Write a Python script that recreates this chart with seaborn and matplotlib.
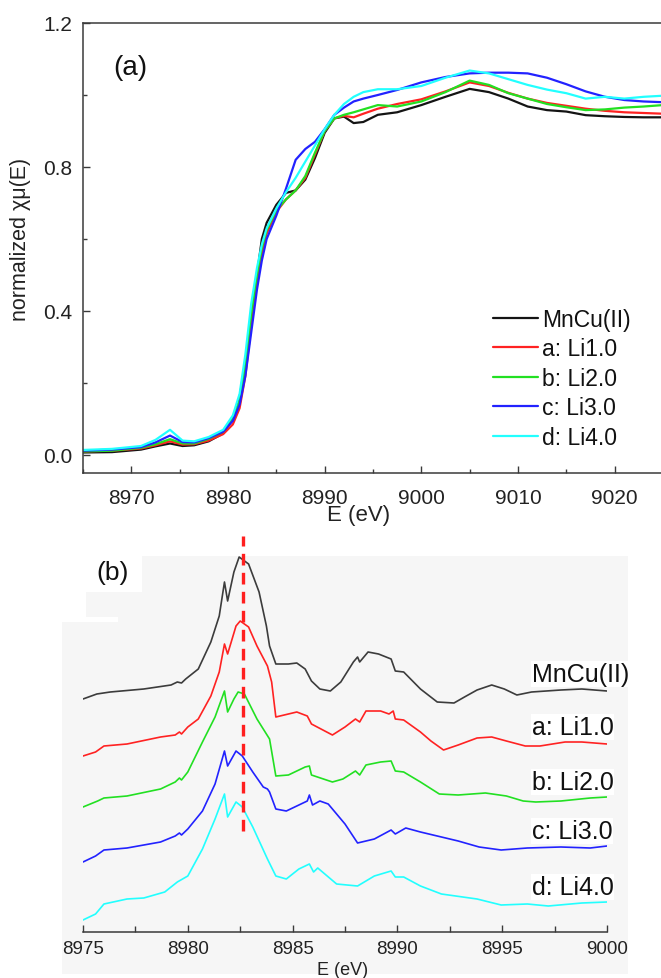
import numpy as np
import pandas as pd
import matplotlib
matplotlib.use("Agg")
import matplotlib.pyplot as plt
import seaborn as sns
from matplotlib.patches import Polygon
from matplotlib.ticker import MultipleLocator, FixedLocator

# ---------------------------------------------------------------- data
SAMPLES = ["MnCu(II)", "a: Li1.0", "b: Li2.0", "c: Li3.0", "d: Li4.0"]
COLORS = ["#141414", "#ff2222", "#22e022", "#2222ff", "#22ffff"]

# (a) normalized Cu K-edge XANES
E_A = [8965, 8968, 8971, 8972.5, 8974, 8975.3, 8976.5, 8978, 8979.5, 8980.5,
       8981.2, 8981.8, 8982.4, 8983, 8983.5, 8984, 8985, 8986, 8987, 8988,
       8989, 8990, 8991, 8992, 8993, 8994, 8995.5, 8997.5, 9000, 9002.5,
       9005, 9007, 9009, 9011, 9013, 9015, 9017, 9019, 9021, 9023, 9025]

MU_MNCU = [0.007, 0.008, 0.015, 0.024, 0.032, 0.025, 0.027, 0.038, 0.060, 0.100,
           0.160, 0.260, 0.390, 0.500, 0.600, 0.645, 0.695, 0.728, 0.735, 0.765,
           0.825, 0.895, 0.935, 0.940, 0.922, 0.925, 0.945, 0.952, 0.972, 0.995,
           1.017, 1.008, 0.990, 0.968, 0.958, 0.954, 0.944, 0.941, 0.939, 0.938, 0.938]
MU_LI1 = [0.010, 0.012, 0.018, 0.027, 0.038, 0.029, 0.030, 0.040, 0.058, 0.085,
          0.130, 0.220, 0.360, 0.480, 0.560, 0.615, 0.675, 0.710, 0.735, 0.770,
          0.835, 0.900, 0.935, 0.942, 0.938, 0.948, 0.962, 0.975, 0.988, 1.010,
          1.035, 1.025, 1.006, 0.990, 0.978, 0.970, 0.962, 0.956, 0.952, 0.950, 0.948]
MU_LI2 = [0.010, 0.012, 0.020, 0.030, 0.044, 0.032, 0.032, 0.045, 0.065, 0.100,
          0.150, 0.250, 0.390, 0.500, 0.575, 0.625, 0.680, 0.710, 0.735, 0.775,
          0.840, 0.900, 0.935, 0.945, 0.952, 0.960, 0.972, 0.968, 0.982, 1.008,
          1.040, 1.028, 1.005, 0.990, 0.975, 0.966, 0.958, 0.960, 0.965, 0.968, 0.972]
MU_LI3 = [0.012, 0.015, 0.022, 0.035, 0.054, 0.036, 0.035, 0.047, 0.065, 0.095,
          0.140, 0.220, 0.340, 0.460, 0.540, 0.600, 0.665, 0.740, 0.820, 0.850,
          0.870, 0.905, 0.945, 0.965, 0.982, 0.990, 1.000, 1.014, 1.035, 1.050,
          1.060, 1.062, 1.062, 1.060, 1.048, 1.030, 1.010, 0.995, 0.986, 0.982, 0.980]
MU_LI4 = [0.014, 0.017, 0.025, 0.042, 0.070, 0.040, 0.038, 0.050, 0.070, 0.110,
          0.170, 0.280, 0.420, 0.520, 0.585, 0.630, 0.685, 0.730, 0.770, 0.815,
          0.860, 0.905, 0.945, 0.975, 0.995, 1.008, 1.016, 1.016, 1.025, 1.048,
          1.068, 1.060, 1.044, 1.028, 1.015, 1.005, 0.990, 0.995, 0.990, 0.995, 0.998]

# (b) pre-edge / edge region, vertically stacked spectra (a.u.)
E_B_MNCU = [8975, 8975.66, 8976.3, 8977.9, 8979.2, 8979.5, 8979.7, 8979.9, 8980.5, 8981.1,
            8981.5, 8981.75, 8981.9, 8982.2, 8982.45, 8982.9, 8983.4, 8983.75, 8983.9, 8984.2,
            8984.8, 8985.2, 8985.6, 8985.9, 8986.3, 8986.8, 8987.3, 8987.9, 8988.1, 8988.2,
            8988.6, 8989.1, 8989.7, 8989.9, 8990.3, 8991.1, 8991.9, 8992.7, 8993.2, 8993.8,
            8994.5, 8995.1, 8995.7, 8996.4, 8997.8, 8998.8, 9000]
Y_B_MNCU = [2.33, 2.38, 2.40, 2.43, 2.47, 2.50, 2.49, 2.53, 2.63, 2.90,
            3.16, 3.50, 3.31, 3.60, 3.75, 3.68, 3.40, 3.06, 2.86, 2.68,
            2.68, 2.69, 2.63, 2.51, 2.43, 2.41, 2.50, 2.70, 2.75, 2.70,
            2.80, 2.78, 2.73, 2.61, 2.60, 2.43, 2.30, 2.29, 2.35, 2.42,
            2.47, 2.43, 2.37, 2.40, 2.42, 2.43, 2.41]

E_B_LI1 = [8975, 8975.6, 8976, 8977.1, 8978.7, 8979.4, 8979.6, 8979.7, 8980, 8980.5,
           8981.1, 8981.5, 8981.75, 8981.9, 8982.3, 8982.5, 8982.9, 8983.3, 8983.8, 8984,
           8984.2, 8985.2, 8985.7, 8985.9, 8986.9, 8987.5, 8988, 8988.2, 8988.5, 8989.2,
           8989.6, 8989.8, 8989.9, 8990.3, 8991.1, 8991.6, 8992.2, 8992.9, 8993.8, 8994.5,
           8995.2, 8996.1, 8996.8, 8998, 8998.8, 9000]
Y_B_LI1 = [1.76, 1.80, 1.86, 1.88, 1.95, 1.97, 2.00, 1.98, 2.05, 2.13,
           2.36, 2.60, 2.88, 2.78, 3.06, 3.11, 3.05, 2.86, 2.66, 2.50,
           2.15, 2.20, 2.16, 2.08, 1.97, 2.05, 2.13, 2.10, 2.21, 2.21,
           2.18, 2.21, 2.13, 2.12, 2.00, 1.91, 1.82, 1.87, 1.94, 1.95,
           1.91, 1.86, 1.86, 1.90, 1.90, 1.88]

E_B_LI2 = [8975, 8975.7, 8976, 8977.1, 8978.7, 8979.4, 8979.6, 8979.7, 8980, 8980.7,
           8981.3, 8981.75, 8981.9, 8982.2, 8982.4, 8982.7, 8983.3, 8983.9, 8984.2, 8984.8,
           8985.6, 8985.8, 8985.9, 8986.9, 8987.4, 8988, 8988.2, 8988.5, 8989.2, 8989.7,
           8989.9, 8990.3, 8991.1, 8992, 8992.9, 8994.2, 8995.2, 8996, 8996.6, 8997.8,
           8999.2, 9000]
Y_B_LI2 = [1.25, 1.31, 1.34, 1.36, 1.43, 1.50, 1.54, 1.52, 1.60, 1.90,
           2.15, 2.41, 2.20, 2.33, 2.40, 2.38, 2.13, 1.93, 1.56, 1.57,
           1.65, 1.66, 1.57, 1.50, 1.53, 1.61, 1.57, 1.67, 1.70, 1.71,
           1.61, 1.60, 1.50, 1.38, 1.37, 1.39, 1.36, 1.31, 1.30, 1.31,
           1.34, 1.35]

E_B_LI3 = [8975, 8975.6, 8976, 8977.1, 8978.7, 8979.4, 8979.6, 8979.7, 8980, 8980.7,
           8981.3, 8981.75, 8981.9, 8982.3, 8982.6, 8983.1, 8983.6, 8983.8, 8983.9, 8984.2,
           8984.7, 8985.2, 8985.7, 8985.8, 8985.95, 8986.3, 8986.7, 8987.5, 8988.1, 8988.9,
           8989.7, 8989.9, 8990.4, 8991.1, 8991.9, 8992.9, 8993.9, 8994.95, 8996.2, 8997.8,
           8999.2, 9000]
Y_B_LI3 = [0.70, 0.76, 0.82, 0.84, 0.90, 0.96, 0.99, 0.97, 1.03, 1.21,
           1.48, 1.81, 1.66, 1.81, 1.76, 1.60, 1.45, 1.43, 1.40, 1.23,
           1.21, 1.26, 1.31, 1.37, 1.27, 1.31, 1.28, 1.08, 0.89, 0.93,
           1.02, 0.98, 1.04, 1.00, 0.96, 0.91, 0.85, 0.82, 0.84, 0.85,
           0.84, 0.86]

E_B_LI4 = [8975, 8975.6, 8976, 8977.1, 8977.9, 8978.9, 8979.5, 8980, 8980.7, 8981.3,
           8981.75, 8981.9, 8982.3, 8982.6, 8983.1, 8983.8, 8984.2, 8984.7, 8985.3, 8985.8,
           8986, 8986.2, 8987.1, 8988.1, 8988.9, 8989.7, 8989.9, 8990.3, 8991.1, 8992.1,
           8993.8, 8994.95, 8996.2, 8997.2, 8998.8, 9000]
Y_B_LI4 = [0.12, 0.18, 0.28, 0.33, 0.34, 0.40, 0.50, 0.56, 0.83, 1.13,
           1.38, 1.15, 1.30, 1.25, 1.05, 0.73, 0.56, 0.53, 0.63, 0.68,
           0.60, 0.64, 0.48, 0.46, 0.56, 0.61, 0.55, 0.55, 0.46, 0.38,
           0.33, 0.27, 0.28, 0.26, 0.29, 0.30]

# energy of the main edge feature marked in (b), and the span of the marker (a.u.)
EDGE_E = 8982.64
EDGE_SPAN = [1.01, 3.96]

# ---------------------------------------------------------------- frames
df_a = pd.concat(
    [pd.DataFrame({"E": E_A, "mu": mu, "sample": s})
     for s, mu in zip(SAMPLES, [MU_MNCU, MU_LI1, MU_LI2, MU_LI3, MU_LI4])],
    ignore_index=True)

b_series = [(E_B_MNCU, Y_B_MNCU), (E_B_LI1, Y_B_LI1), (E_B_LI2, Y_B_LI2),
            (E_B_LI3, Y_B_LI3), (E_B_LI4, Y_B_LI4)]
df_b = pd.concat(
    [pd.DataFrame({"E": e, "y": y, "sample": s})
     for s, (e, y) in zip(SAMPLES, b_series)],
    ignore_index=True)

# ---------------------------------------------------------------- style
sns.set_theme(style="ticks")
plt.rcParams["font.family"] = ["Liberation Sans", "DejaVu Sans"]
plt.rcParams.update({
    "xtick.direction": "in", "ytick.direction": "in",
    "axes.edgecolor": "#3a3a3a", "axes.linewidth": 1.1,
    "xtick.color": "#3a3a3a", "ytick.color": "#3a3a3a",
    "xtick.labelcolor": "#222222", "ytick.labelcolor": "#222222",
    "text.color": "#111111", "axes.labelcolor": "#222222",
})

W, H = 661, 979
fig = plt.figure(figsize=(W / 100, H / 100), dpi=100)
fig.patch.set_facecolor("white")


def fx(px):
    return px / W


def fy(py):
    return 1 - py / H


# light grey backdrop behind panel (b)
bg_pts = [(142, 557), (628, 557), (628, 975), (62, 975), (62, 623), (118, 623),
          (118, 618), (86, 618), (86, 593), (142, 593)]
fig.patches.append(Polygon([(fx(x), fy(y)) for x, y in bg_pts], closed=True,
                           transform=fig.transFigure, facecolor="#f6f6f6",
                           edgecolor="none", zorder=-10))

# ---------------------------------------------------------------- panel (a)
ax_a = fig.add_axes([fx(83), fy(474), fx(661 - 83) + 0.003, (474 - 24) / H])
ax_a.set_facecolor("none")
sns.lineplot(data=df_a, x="E", y="mu", hue="sample", hue_order=SAMPLES,
             palette=COLORS, estimator=None, sort=False, linewidth=1.6,
             ax=ax_a)
ax_a.set_xlim(8965, 9025)
ax_a.set_ylim(-0.05, 1.2)
ax_a.xaxis.set_major_locator(MultipleLocator(10))
ax_a.xaxis.set_minor_locator(MultipleLocator(5))
ax_a.yaxis.set_major_locator(FixedLocator([0.0, 0.4, 0.8, 1.2]))
ax_a.yaxis.set_minor_locator(MultipleLocator(0.2))
ax_a.yaxis.set_major_formatter(matplotlib.ticker.FormatStrFormatter("%.1f"))
ax_a.tick_params(which="major", length=5, width=1.0, labelsize=15)
ax_a.tick_params(which="minor", length=3, width=1.0)
ax_a.tick_params(axis="x", which="major", pad=11)
ax_a.tick_params(axis="y", which="major", pad=8)
ax_a.spines["right"].set_visible(False)

ax_a.set_xlabel("E (eV)", fontsize=16)
ax_a.xaxis.set_label_coords((358 - 83) / 578, (474 - 505) / 450)
ax_a.set_ylabel("normalized χμ(E)", fontsize=15.5)
ax_a.yaxis.set_label_coords((31 - 83) / 578, (474 - 239) / 450)

ax_a.text((130 - 83) / 578, (474 - 68) / 450, "(a)", transform=ax_a.transAxes,
          fontsize=20, ha="center", va="center")

handles, labels = ax_a.get_legend_handles_labels()
ax_a.legend(handles, labels, loc="upper left",
            bbox_to_anchor=(fx(493), fy(309)), bbox_transform=fig.transFigure,
            frameon=False, fontsize=16.5, handlelength=1.95, handletextpad=0.2,
            labelspacing=0.28, borderpad=0, borderaxespad=0)

# ---------------------------------------------------------------- panel (b)
ax_b = fig.add_axes([fx(83), fy(933), fx(607 - 83), (933 - 537) / H])
ax_b.set_facecolor("none")
b_colors = ["#3c3c3c"] + COLORS[1:]
sns.lineplot(data=df_b, x="E", y="y", hue="sample", hue_order=SAMPLES,
             palette=b_colors, estimator=None, sort=False, linewidth=1.2,
             legend=False, ax=ax_b)
ax_b.set_xlim(8975, 9000)
ax_b.set_ylim(0, 3.96)
ax_b.plot([EDGE_E, EDGE_E], EDGE_SPAN, color="#ff1f1f", linewidth=2.4,
          dashes=(3.5, 2.2), zorder=5, clip_on=False)

for name, x0, y0 in zip(SAMPLES, [8996.4] * 5, [2.58, 2.05, 1.50, 1.01, 0.45]):
    ax_b.text(x0, y0, name, fontsize=18, ha="left", va="center",
              bbox=dict(facecolor="white", edgecolor="none", pad=0.5))

ax_b.xaxis.set_major_locator(MultipleLocator(5))
ax_b.xaxis.set_minor_locator(MultipleLocator(2.5))
ax_b.tick_params(axis="x", which="major", length=5, width=1.0, labelsize=13.5, pad=6)
ax_b.tick_params(axis="x", which="minor", length=4, width=1.0)
ax_b.set_yticks([])
for side in ("left", "right", "top"):
    ax_b.spines[side].set_visible(False)
ax_b.set_xlabel("E (eV)", fontsize=13)
ax_b.set_ylabel("")
ax_b.xaxis.set_label_coords((343 - 83) / 524, (933 - 962) / 396)

fig.text(fx(113), fy(573), "(b)", fontsize=19, ha="center", va="center")

fig.savefig("out.png", dpi=100)
